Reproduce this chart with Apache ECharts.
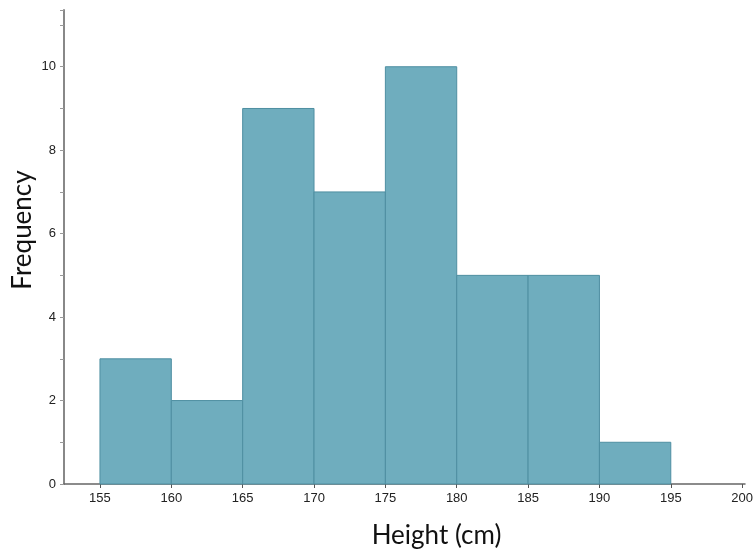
<!DOCTYPE html>
<html>
<head>
<meta charset="utf-8">
<script src="https://cdn.jsdelivr.net/npm/echarts@6/dist/echarts.min.js"></script>
<style>
  html, body { margin: 0; padding: 0; background: #fff; }
  #chart { width: 753px; height: 550px; }
</style>
</head>
<body>
<div id="chart"></div>
<script>
// Histogram bins: lower edge, upper edge, count
const binStarts = [155, 160, 165, 170, 175, 180, 185, 190];
const binEnds   = [160, 165, 170, 175, 180, 185, 190, 195];
const counts    = [3, 2, 9, 7, 10, 5, 5, 1];
const xTicks    = [155, 160, 165, 170, 175, 180, 185, 190, 195, 200];

const bins = binStarts.map((s, i) => [s, binEnds[i], counts[i]]);

const chart = echarts.init(document.getElementById('chart'));
chart.setOption({
  animation: false,
  grid: { left: 64, right: 8, top: 10, bottom: 66, outerBoundsMode: 'none' },
  xAxis: {
    type: 'value',
    min: 152.48,
    max: 200.2,
    name: 'Height (cm)',
    nameLocation: 'middle',
    nameGap: 39,
    nameTextStyle: { fontFamily: 'Lato', fontSize: 26, color: '#111', padding: [0, 0, 0, 64] },
    axisLine: { lineStyle: { color: '#666', width: 1.5 } },
    axisTick: { show: true, length: 4, customValues: xTicks, lineStyle: { color: '#555' } },
    axisLabel: { customValues: xTicks, fontFamily: 'Liberation Sans', fontSize: 13, color: '#222', margin: 8 },
    splitLine: { show: false }
  },
  yAxis: {
    type: 'value',
    min: 0,
    max: 11.36,
    interval: 1,
    name: 'Frequency',
    nameLocation: 'middle',
    nameGap: 28,
    nameMoveOverlap: false,
    nameRotate: 90,
    nameTextStyle: { fontFamily: 'Lato', fontSize: 26, color: '#111', padding: [0, 0, 0, 34] },
    axisLine: { show: true, lineStyle: { color: '#888', width: 2 } },
    axisTick: { show: true, length: 4, lineStyle: { color: '#999' } },
    axisLabel: {
      fontFamily: 'Liberation Sans', fontSize: 13, color: '#222', margin: 8,
      formatter: v => (v % 2 === 0 ? String(v) : '')
    },
    splitLine: { show: false }
  },
  series: [{
    type: 'custom',
    data: bins,
    encode: { x: [0, 1], y: 2 },
    renderItem: (params, api) => {
      const p0 = api.coord([api.value(0), api.value(2)]);
      const p1 = api.coord([api.value(1), 0]);
      return {
        type: 'rect',
        shape: { x: p0[0], y: p0[1], width: p1[0] - p0[0], height: p1[1] - p0[1] },
        style: { fill: '#6fadbe', stroke: '#4f8fa2', lineWidth: 1 }
      };
    }
  }]
});
</script>
</body>
</html>
